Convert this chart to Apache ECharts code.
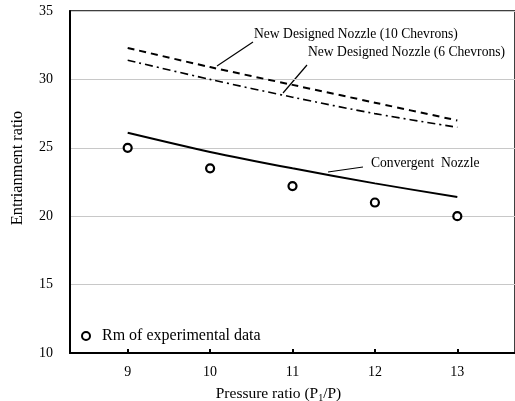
<!DOCTYPE html>
<html>
<head>
<meta charset="utf-8">
<script src="https://cdn.jsdelivr.net/npm/echarts@6/dist/echarts.min.js"></script>
<style>
  html, body { margin: 0; padding: 0; background: #fff; }
  #chart { width: 515px; height: 401px; }
</style>
</head>
<body>
<div id="chart"></div>
<script>
// pressure ratio P1/P
var pressure = [9, 10, 11, 12, 13];
// Rm of experimental data
var experimental = [25.0, 23.5, 22.2, 21.0, 20.0];
// numerical curves
var convergent = [26.1, 24.7, 23.5, 22.4, 21.4];
var chevrons10 = [32.3, 30.9, 29.6, 28.3, 27.0];
var chevrons6 = [31.4, 30.0, 28.7, 27.5, 26.5];
var yTicks = [10, 15, 20, 25, 30, 35];

function pairs(vals) {
    return pressure.map(function (p, i) { return [p, vals[i]]; });
}

var font = '"Liberation Serif", "DejaVu Serif", serif';

// leader-line annotations: [text, lineFrom, lineTo, textPos]
var notes = [
    ['New Designed Nozzle (10 Chevrons)', [217, 66], [253, 42], [254, 34]],
    ['New Designed Nozzle (6 Chevrons)', [283, 93], [307, 65], [308, 52]],
    ['Convergent  Nozzle', [328, 172], [363, 167], [371, 163]]
];

var graphics = [];
notes.forEach(function (n) {
    graphics.push({
        type: 'line',
        shape: { x1: n[1][0], y1: n[1][1], x2: n[2][0], y2: n[2][1] },
        style: { stroke: '#000', lineWidth: 1.2 }
    });
    graphics.push({
        type: 'text',
        x: n[3][0], y: n[3][1],
        style: { text: n[0], font: '13.6px ' + font, fill: '#000', verticalAlign: 'middle' }
    });
});
// y axis title
graphics.push({
    type: 'text',
    x: 18, y: 168, rotation: Math.PI / 2,
    style: { text: 'Entrianment ratio', font: '16.3px ' + font, fill: '#000', align: 'center', verticalAlign: 'middle' }
});

var option = {
    animation: false,
    backgroundColor: '#fff',
    grid: {
        left: 70, right: 0, top: 11, bottom: 48,
        outerBoundsMode: 'none',
        containLabel: false,
        show: true, borderColor: '#000', borderWidth: 1.5
    },
    legend: {
        left: 76, top: 323,
        itemWidth: 8, itemHeight: 8, itemGap: 6,
        data: ['Rm of experimental data'],
        textStyle: { fontFamily: font, fontSize: 16, color: '#000', padding: [0, 0, 0, 7] }
    },
    xAxis: {
        type: 'value',
        min: 8.3, max: 13.7,
        name: 'Pressure ratio (P{sub|1}/P)',
        nameLocation: 'middle',
        nameGap: 32,
        nameTextStyle: {
            fontFamily: font, fontSize: 15.5, color: '#000', padding: [0, 28, 0, 0],
            rich: { sub: { fontFamily: font, fontSize: 10, color: '#000', padding: [8, 0, 0, 0] } }
        },
        axisLine: { lineStyle: { color: '#000', width: 2 } },
        axisTick: { inside: true, length: 4, customValues: pressure, lineStyle: { color: '#000', width: 2 } },
        axisLabel: { customValues: pressure, margin: 12, fontFamily: font, fontSize: 14, color: '#000' },
        splitLine: { show: false }
    },
    yAxis: {
        type: 'value',
        min: yTicks[0], max: yTicks[yTicks.length - 1], interval: 5,
        axisLine: { lineStyle: { color: '#000', width: 2 } },
        axisTick: { show: false },
        axisLabel: { margin: 17, fontFamily: font, fontSize: 14, color: '#000' },
        splitLine: { lineStyle: { color: '#c8c8c8', width: 1 } }
    },
    series: [
        {
            name: 'New Designed Nozzle (10 Chevrons)',
            type: 'line', smooth: 0.3, showSymbol: false,
            data: pairs(chevrons10),
            lineStyle: { color: '#000', width: 2, type: [7, 5] }
        },
        {
            name: 'New Designed Nozzle (6 Chevrons)',
            type: 'line', smooth: 0.3, showSymbol: false,
            data: pairs(chevrons6),
            lineStyle: { color: '#000', width: 1.6, type: [8, 4, 2, 4] }
        },
        {
            name: 'Convergent Nozzle',
            type: 'line', smooth: 0.3, showSymbol: false,
            data: pairs(convergent),
            lineStyle: { color: '#000', width: 2 }
        },
        {
            name: 'Rm of experimental data',
            type: 'scatter',
            symbol: 'circle', symbolSize: 8,
            data: pairs(experimental),
            itemStyle: { color: '#fff', borderColor: '#000', borderWidth: 2.2, opacity: 1 }
        }
    ],
    graphic: graphics
};

var chart = echarts.init(document.getElementById('chart'));
chart.setOption(option);
</script>
</body>
</html>
